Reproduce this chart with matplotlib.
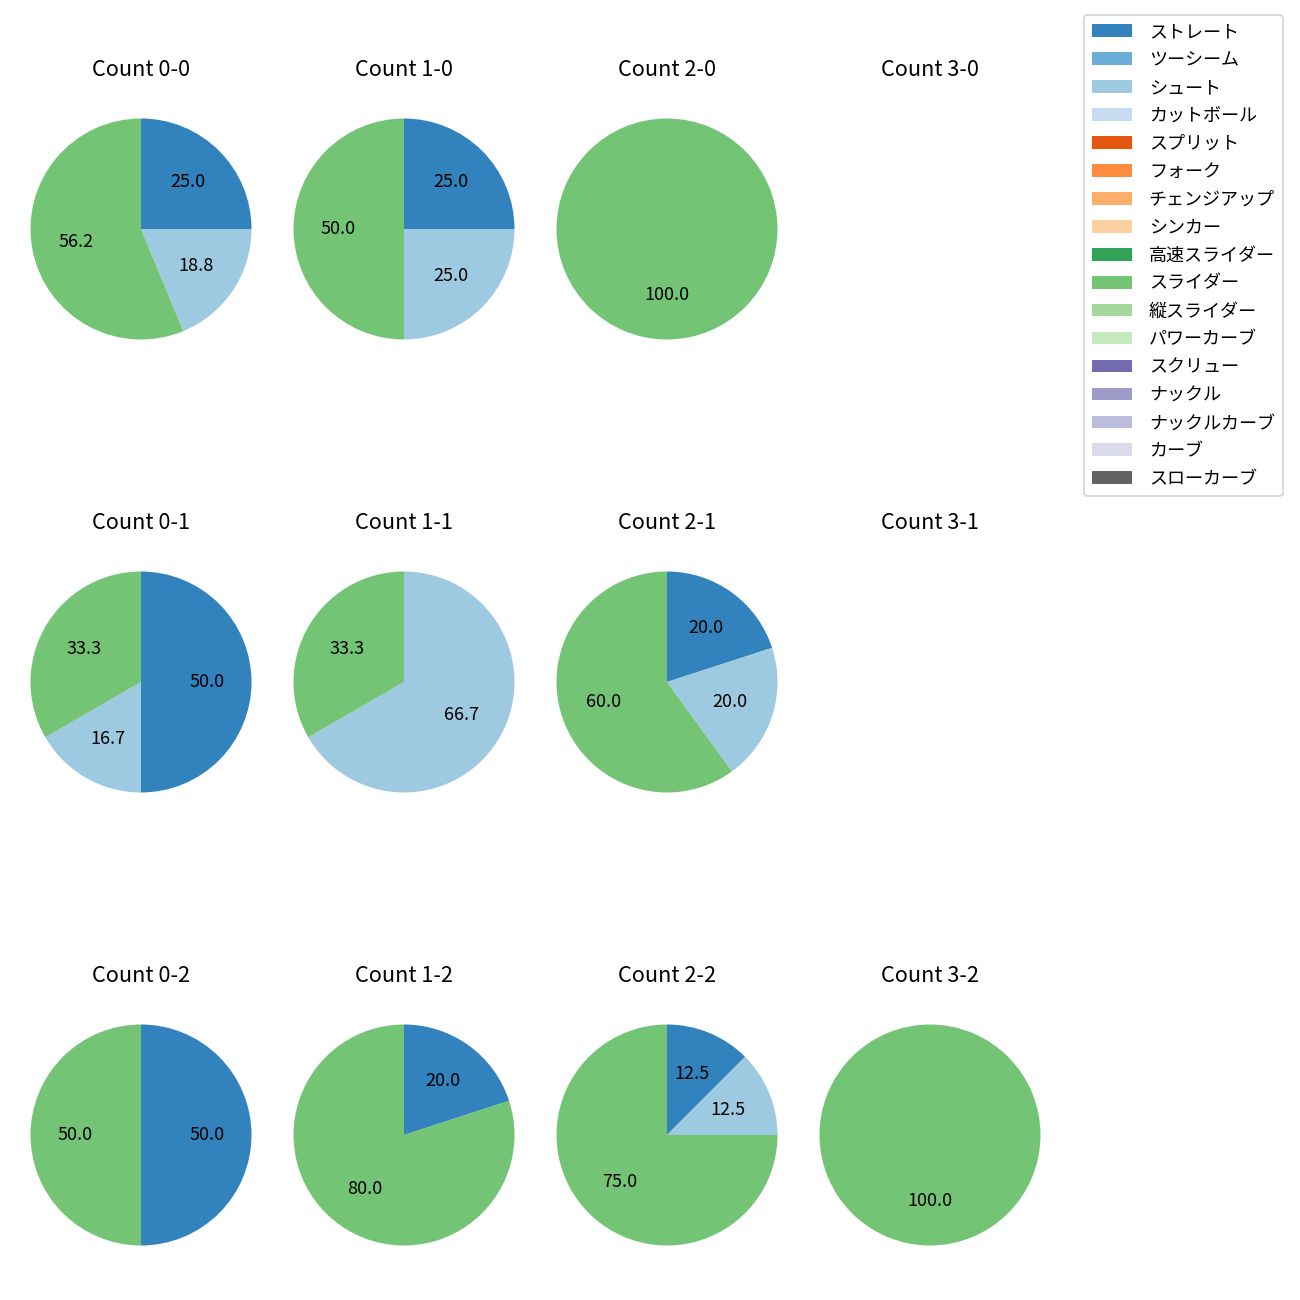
import matplotlib
matplotlib.use("Agg")
import matplotlib.pyplot as plt
from matplotlib.patches import Patch

plt.rcParams['font.family'] = ['Noto Sans CJK JP', 'DejaVu Sans']

pitch_types = ["ストレート", "ツーシーム", "シュート", "カットボール", "スプリット", "フォーク",
               "チェンジアップ", "シンカー", "高速スライダー", "スライダー", "縦スライダー",
               "パワーカーブ", "スクリュー", "ナックル", "ナックルカーブ", "カーブ", "スローカーブ"]

balls = [0, 1, 2, 3]
strikes = [0, 1, 2]

# pitch counts per ball-strike count (only non-zero types)
count_0_0 = {"ストレート": 4, "シュート": 3, "スライダー": 9}
count_1_0 = {"ストレート": 1, "シュート": 1, "スライダー": 2}
count_2_0 = {"スライダー": 1}
count_3_0 = {}
count_0_1 = {"ストレート": 3, "シュート": 1, "スライダー": 2}
count_1_1 = {"シュート": 2, "スライダー": 1}
count_2_1 = {"ストレート": 1, "シュート": 1, "スライダー": 3}
count_3_1 = {}
count_0_2 = {"ストレート": 1, "スライダー": 1}
count_1_2 = {"ストレート": 1, "スライダー": 4}
count_2_2 = {"ストレート": 1, "シュート": 1, "スライダー": 6}
count_3_2 = {"スライダー": 1}

data = {
    (0, 0): count_0_0, (1, 0): count_1_0, (2, 0): count_2_0, (3, 0): count_3_0,
    (0, 1): count_0_1, (1, 1): count_1_1, (2, 1): count_2_1, (3, 1): count_3_1,
    (0, 2): count_0_2, (1, 2): count_1_2, (2, 2): count_2_2, (3, 2): count_3_2,
}

cmap = plt.get_cmap('tab20c')
colors = {p: cmap(i) for i, p in enumerate(pitch_types)}

W = H = 1300
fig = plt.figure(figsize=(10, 10), dpi=130)

cx = [141, 404, 667, 930]
cy = [229, 682, 1135]
r_px = 110.5
side = 2.5 * r_px

for s in strikes:
    for b in balls:
        x0 = (cx[b] - side / 2) / W
        y0 = 1 - (cy[s] + side / 2) / H
        ax = fig.add_axes([x0, y0, side / W, side / H])
        d = data[(b, s)]
        ax.set_title(f"Count {b}-{s}", fontsize=12, pad=8)
        if d:
            labels = list(d.keys())
            vals = [d[k] for k in labels]
            ax.pie(vals, colors=[colors[k] for k in labels], startangle=90,
                   counterclock=False, autopct='%.1f', textprops={'fontsize': 10})
        else:
            ax.axis('off')

handles = [Patch(facecolor=colors[p], label=p) for p in pitch_types]
fig.legend(handles=handles, loc='upper right', bbox_to_anchor=(1283 / W, 1 - 15 / H),
           borderaxespad=0, fontsize=10, labelspacing=0.55, handlelength=2.2,
           handletextpad=0.95, borderpad=0.45)

fig.savefig("out.png", dpi=130)
